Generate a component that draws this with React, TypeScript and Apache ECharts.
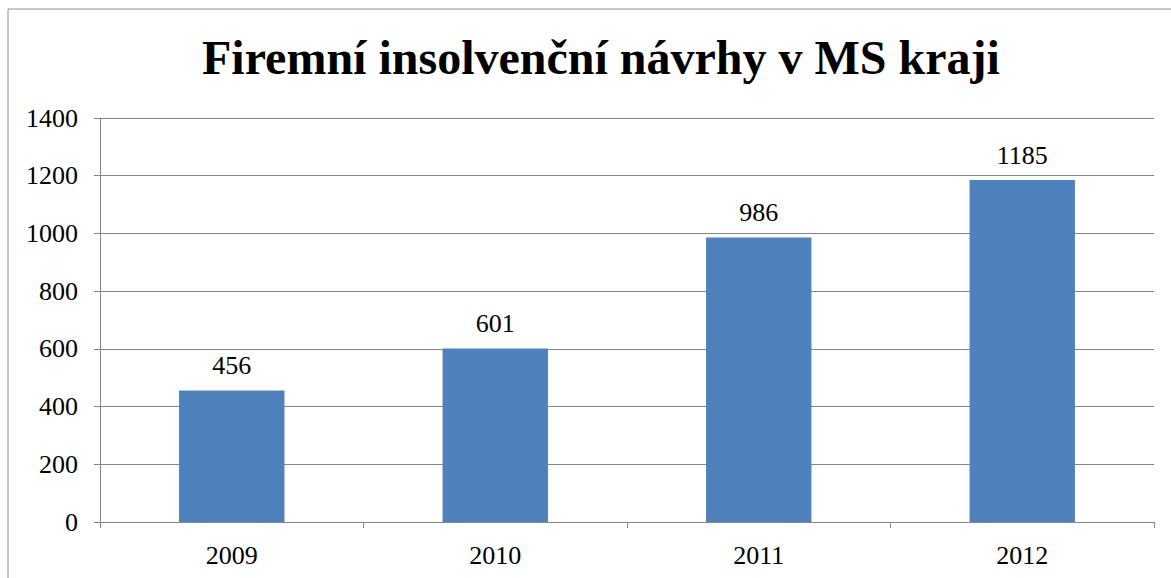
import React, { useEffect, useRef } from "react";
import * as echarts from "echarts";

const title = "Firemní insolvenční návrhy v MS kraji";
const categories = ["2009", "2010", "2011", "2012"];
const values = [456, 601, 986, 1185];

export default function App() {
  const ref = useRef<HTMLDivElement>(null);
  useEffect(() => {
    if (!ref.current) return;
    const chart = echarts.init(ref.current, null, { renderer: "svg" });
    const font = "Liberation Serif";
    chart.setOption({
      animation: false,
      backgroundColor: "#ffffff",
      textStyle: { fontFamily: font },
      title: {
        text: title,
        left: 197,
        top: 28,
        textStyle: { fontFamily: font, fontWeight: "bold", fontSize: 48, color: "#000" },
      },
      graphic: [
        {
          type: "rect",
          shape: { x: 8, y: 9, width: 1200, height: 620 },
          style: { fill: "none", stroke: "#8c8c8c", lineWidth: 1 },
          silent: true,
        },
      ],
      grid: { left: 100, right: 17, top: 118, bottom: 56 },
      xAxis: {
        type: "category",
        data: categories,
        axisLine: { lineStyle: { color: "#868686", width: 1 } },
        axisTick: { show: true, alignWithLabel: false, length: 6, lineStyle: { color: "#868686" } },
        axisLabel: { fontFamily: font, fontSize: 26, color: "#000", margin: 20 },
      },
      yAxis: {
        type: "value",
        min: 0,
        max: 1400,
        interval: 200,
        axisLine: { show: true, lineStyle: { color: "#868686", width: 1 } },
        axisTick: { show: true, length: 6, lineStyle: { color: "#868686" } },
        splitLine: { lineStyle: { color: "#868686", width: 1 } },
        axisLabel: {
          fontFamily: font,
          fontSize: 26,
          color: "#000",
          margin: 22,
          formatter: (v: number) => String(v),
        },
      },
      series: [
        {
          type: "bar",
          data: values,
          barWidth: "40%",
          itemStyle: { color: "#4F81BD" },
          label: {
            show: true,
            position: "top",
            distance: 12,
            fontFamily: font,
            fontSize: 26,
            color: "#000",
          },
        },
      ],
    });
    return () => chart.dispose();
  }, []);
  return (
    <div
      ref={ref}
      style={{ position: "fixed", left: 0, top: 0, width: 1171, height: 578 }}
    />
  );
}
